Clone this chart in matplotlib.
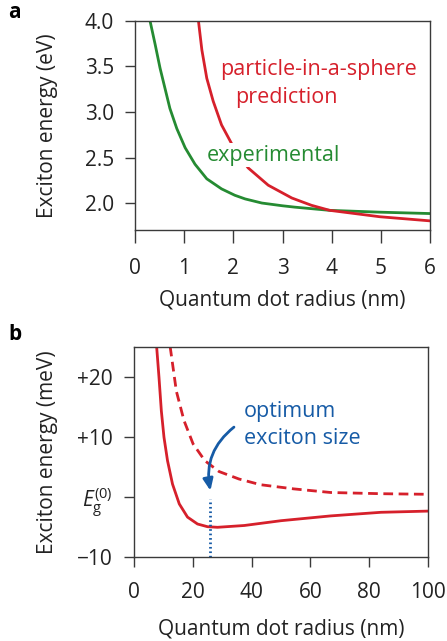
import matplotlib
matplotlib.use('Agg')
import matplotlib.pyplot as plt

plt.rcParams['font.family'] = ['Open Sans', 'DejaVu Sans']
plt.rcParams['mathtext.fontset'] = 'custom'
plt.rcParams['mathtext.rm'] = 'Open Sans'
plt.rcParams['mathtext.it'] = 'Open Sans:italic'

RED = '#d6202b'
GREEN = '#258b32'
BLUE = '#165ba6'
SPINE = '#3a3a3a'

# panel a: exciton energy vs radius (eV)
exp_x = [0.305, 0.41, 0.51, 0.61, 0.71, 0.85, 1.02, 1.22, 1.46, 1.76, 2.03, 2.24, 2.58, 3.0, 3.25, 3.96, 4.98, 6.0]
exp_y = [4.00, 3.74, 3.48, 3.26, 3.04, 2.82, 2.61, 2.43, 2.27, 2.16, 2.09, 2.05, 2.005, 1.975, 1.96, 1.925, 1.905, 1.89]
pias_x = [1.29, 1.36, 1.46, 1.59, 1.76, 2.00, 2.30, 2.71, 3.19, 3.59, 3.96, 4.98, 6.0]
pias_y = [4.00, 3.68, 3.37, 3.12, 2.86, 2.62, 2.39, 2.20, 2.06, 1.98, 1.925, 1.855, 1.81]
a_xticks = [0, 1, 2, 3, 4, 5, 6]
a_yticks = [2.0, 2.5, 3.0, 3.5, 4.0]

# panel b: exciton energy vs radius (meV, relative to Eg0)
solid_x = [7.7, 8.5, 9.3, 10.2, 11.4, 13.1, 15.4, 18.2, 21.6, 25.0, 28.4, 37.5, 50.0, 66.9, 84.0, 100.0]
solid_y = [25.0, 19.9, 14.3, 9.9, 6.0, 2.1, -1.2, -3.4, -4.55, -5.0, -5.1, -4.8, -4.0, -3.2, -2.6, -2.4]
dash_x = [12.3, 14.4, 17.0, 20.1, 24.1, 28.9, 35.7, 43.0, 54.4, 66.9, 84.0, 100.0]
dash_y = [25.0, 17.6, 12.7, 8.8, 6.0, 4.2, 2.95, 2.0, 1.3, 0.7, 0.5, 0.4]
opt_r = 26.0
b_xticks = [0, 20, 40, 60, 80, 100]
b_yticks = [-10, 0, 10, 20]
b_ylabels = ['\u221210', r'$E_\mathrm{g}^{(0)}$', '+10', '+20']

fig = plt.figure(figsize=(4.47, 6.41), dpi=100)
W, H = 447, 641

def box(l, t, r, b):
    return [l / W, 1 - b / H, (r - l) / W, (b - t) / H]

def style(ax, xlen, ylen):
    for s in ax.spines.values():
        s.set_color(SPINE)
        s.set_linewidth(1.0)
    ax.tick_params(axis='x', direction='out', length=xlen, width=1.0, color=SPINE,
                   labelsize=15, pad=11, colors='#222222')
    ax.tick_params(axis='y', direction='out', length=ylen, width=1.0, color=SPINE,
                   labelsize=15, pad=8, colors='#222222')

# ---- panel a ----
ax1 = fig.add_axes(box(135, 20.7, 430, 230))
ax1.plot(exp_x, exp_y, color=GREEN, lw=2.0, zorder=2)
ax1.plot(pias_x, pias_y, color=RED, lw=2.0, zorder=2)
ax1.set_xlim(0, 6)
ax1.set_ylim(1.71, 4.0)
ax1.set_xticks(a_xticks)
ax1.set_yticks(a_yticks)
ax1.set_yticklabels([f'{v:.1f}' for v in a_yticks])
style(ax1, 9.4, 7.2)
ax1.set_xlabel('Quantum dot radius (nm)', fontsize=15, labelpad=7, color='#222222')
ax1.set_ylabel('Exciton energy (eV)', fontsize=15, labelpad=19, color='#222222')
ax1.text(1.73, 3.47, 'particle-in-a-sphere', color=RED, fontsize=15.5, va='center', ha='left')
ax1.text(2.03, 3.16, 'prediction', color=RED, fontsize=15.5, va='center', ha='left')
ax1.text(1.46, 2.53, 'experimental', color=GREEN, fontsize=15.5, va='center', ha='left',
         bbox=dict(facecolor='white', edgecolor='none', pad=1), zorder=3)

# ---- panel b ----
ax2 = fig.add_axes(box(134, 346.7, 428, 556.7))
ax2.plot(solid_x, solid_y, color=RED, lw=2.0)
ax2.plot(dash_x, dash_y, color=RED, lw=2.0, ls=(0, (3.5, 2.0)))
ax2.plot([opt_r, opt_r], [-10, -0.4], color=BLUE, lw=2.0, ls=(0, (0.6, 1.0)))
ax2.annotate('', xy=(opt_r, 1.0), xytext=(34, 11.6),
             arrowprops=dict(arrowstyle='-|>,head_length=0.7,head_width=0.3', color=BLUE, lw=2.0,
                             connectionstyle='arc3,rad=0.3', shrinkA=0, shrinkB=0))
ax2.text(37.3, 14.2, 'optimum', color=BLUE, fontsize=15.5, va='center', ha='left')
ax2.text(37.3, 9.7, 'exciton size', color=BLUE, fontsize=15.5, va='center', ha='left')
ax2.set_xlim(0, 100)
ax2.set_ylim(-10, 25)
ax2.set_xticks(b_xticks)
ax2.set_yticks(b_yticks)
ax2.set_yticklabels(b_ylabels)
style(ax2, 7.2, 7.2)
ax2.set_xlabel('Quantum dot radius (nm)', fontsize=15, labelpad=11, color='#222222')
ax2.set_ylabel('Exciton energy (meV)', fontsize=15, labelpad=14, color='#222222')

fig.text(8 / W, 1 - 12 / H, 'a', fontsize=15, fontweight='bold', va='center', ha='left')
fig.text(8 / W, 1 - 334 / H, 'b', fontsize=15, fontweight='bold', va='center', ha='left')

fig.savefig('out.png', dpi=100)
